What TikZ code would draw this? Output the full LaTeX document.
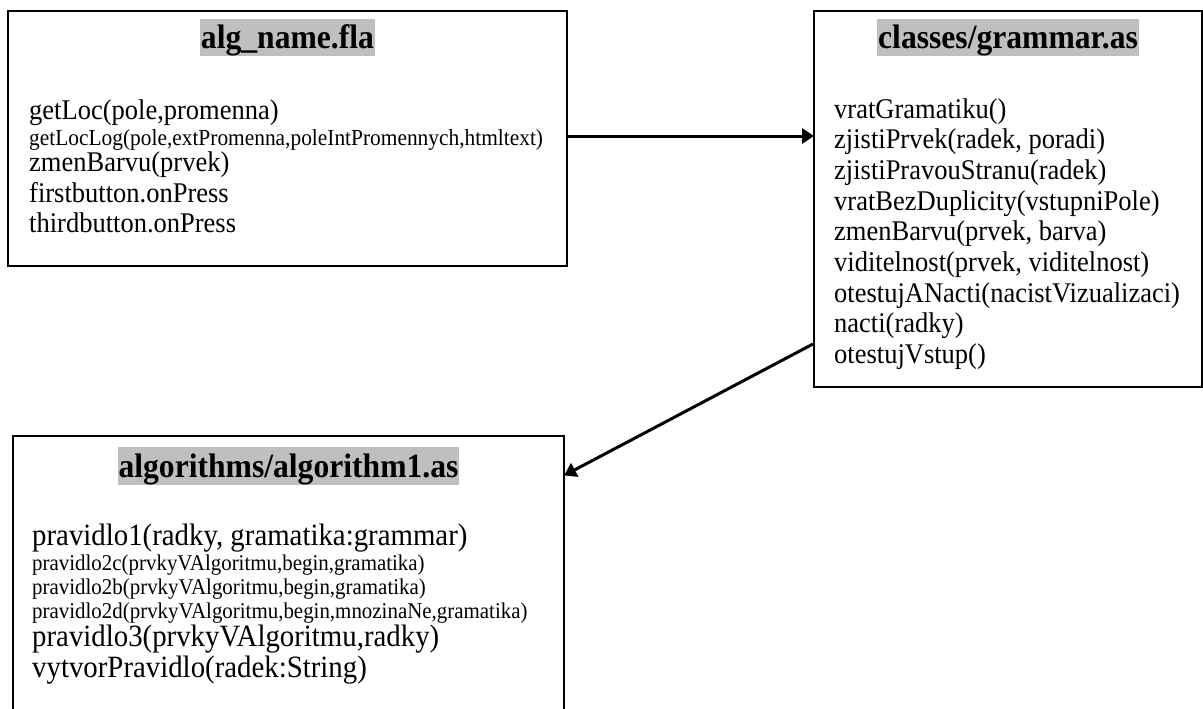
\documentclass[tikz,border=0pt]{standalone}
\usepackage{fontspec}
\setmainfont{Liberation Serif}[FakeStretch=0.93]
\usetikzlibrary{arrows.meta,calc}
\begin{document}
\begin{tikzpicture}[x=1pt,y=-1pt,
  classbox/.style={draw=black,line width=2pt,fill=white,inner sep=0pt,anchor=north west},
  titlebar/.style={fill=black!25,inner xsep=1pt,inner ysep=0pt,text height=30pt,text depth=7.5pt,anchor=base,font=\fontsize{34}{38}\selectfont\bfseries},
  big/.style={anchor=base west,inner sep=0pt,font=\fontsize{28.5}{32}\selectfont},
  bigger/.style={anchor=base west,inner sep=0pt,font=\fontsize{31}{34}\selectfont},
  small/.style={anchor=base west,inner sep=0pt,font=\fontsize{23}{26}\selectfont},
  smaller/.style={anchor=base west,inner sep=0pt,font=\fontsize{22.5}{26}\selectfont},
  conn/.style={line width=3pt,-{Triangle[length=12pt,width=15pt]},shorten >=-1pt}]
\useasboundingbox (0,0) rectangle (1203,709);
\clip (0,0) rectangle (1203,709);

% the three classes
\node[classbox,minimum width=559pt,minimum height=255pt] (fla) at (7,10) {};
\node[classbox,minimum width=388pt,minimum height=376pt] (gram) at (813,10) {};
\node[classbox,minimum width=551pt,minimum height=320pt] (alg) at (12,435) {};

% titles
\node[titlebar] (flaT) at (fla.north |- 0,49) {alg\_name.fla};
\node[titlebar] (gramT) at (gram.north |- 0,49) {classes/grammar.as};
\node[titlebar] (algT) at (alg.north |- 0,477) {algorithms/algorithm1.as};

% alg_name.fla members
\node[big]   (f1) at (29,119) {getLoc(pole,promenna)};
\node[small] (f2) at (29,145) {getLocLog(pole,extPromenna,poleIntPromennych,htmltext)};
\node[big]   (f3) at (29,171) {zmenBarvu(prvek)};
\node[big]   (f4) at (29,202) {firstbutton.onPress};
\node[big]   (f5) at (29,232) {thirdbutton.onPress};

% classes/grammar.as members
\node[big] (g1) at (834,118) {vratGramatiku()};
\node[big] (g2) at (834,148.7) {zjistiPrvek(radek, poradi)};
\node[big] (g3) at (834,179.4) {zjistiPravouStranu(radek)};
\node[big] (g4) at (834,210.1) {vratBezDuplicity(vstupniPole)};
\node[big] (g5) at (834,240.8) {zmenBarvu(prvek, barva)};
\node[big] (g6) at (834,271.5) {viditelnost(prvek, viditelnost)};
\node[big] (g7) at (834,302.2) {otestujANacti(nacistVizualizaci)};
\node[big] (g8) at (834,332.9) {nacti(radky)};
\node[big] (g9) at (834,363.6) {otestujVstup()};

% algorithms/algorithm1.as members
\node[bigger]  (a1) at (32,545) {pravidlo1(radky, gramatika:grammar)};
\node[smaller] (a2) at (32,570) {pravidlo2c(prvkyVAlgoritmu,begin,gramatika)};
\node[smaller] (a3) at (32,594) {pravidlo2b(prvkyVAlgoritmu,begin,gramatika)};
\node[smaller] (a4) at (32,618) {pravidlo2d(prvkyVAlgoritmu,begin,mnozinaNe,gramatika)};
\node[bigger]  (a5) at (32,646) {pravidlo3(prvkyVAlgoritmu,radky)};
\node[bigger]  (a6) at (32,677) {vytvorPravidlo(radek:String)};

% dependencies
\coordinate (flaOut) at ([yshift=2.5pt]fla.east);
\coordinate (gramOut) at ($(gram.south west)+(0,-44)$);
\coordinate (algIn) at ($(alg.north east)+(0,40)$);
\draw[conn] (flaOut) -- (flaOut -| gram.west);
\draw[conn] (gramOut) -- (algIn);
\end{tikzpicture}
\end{document}
